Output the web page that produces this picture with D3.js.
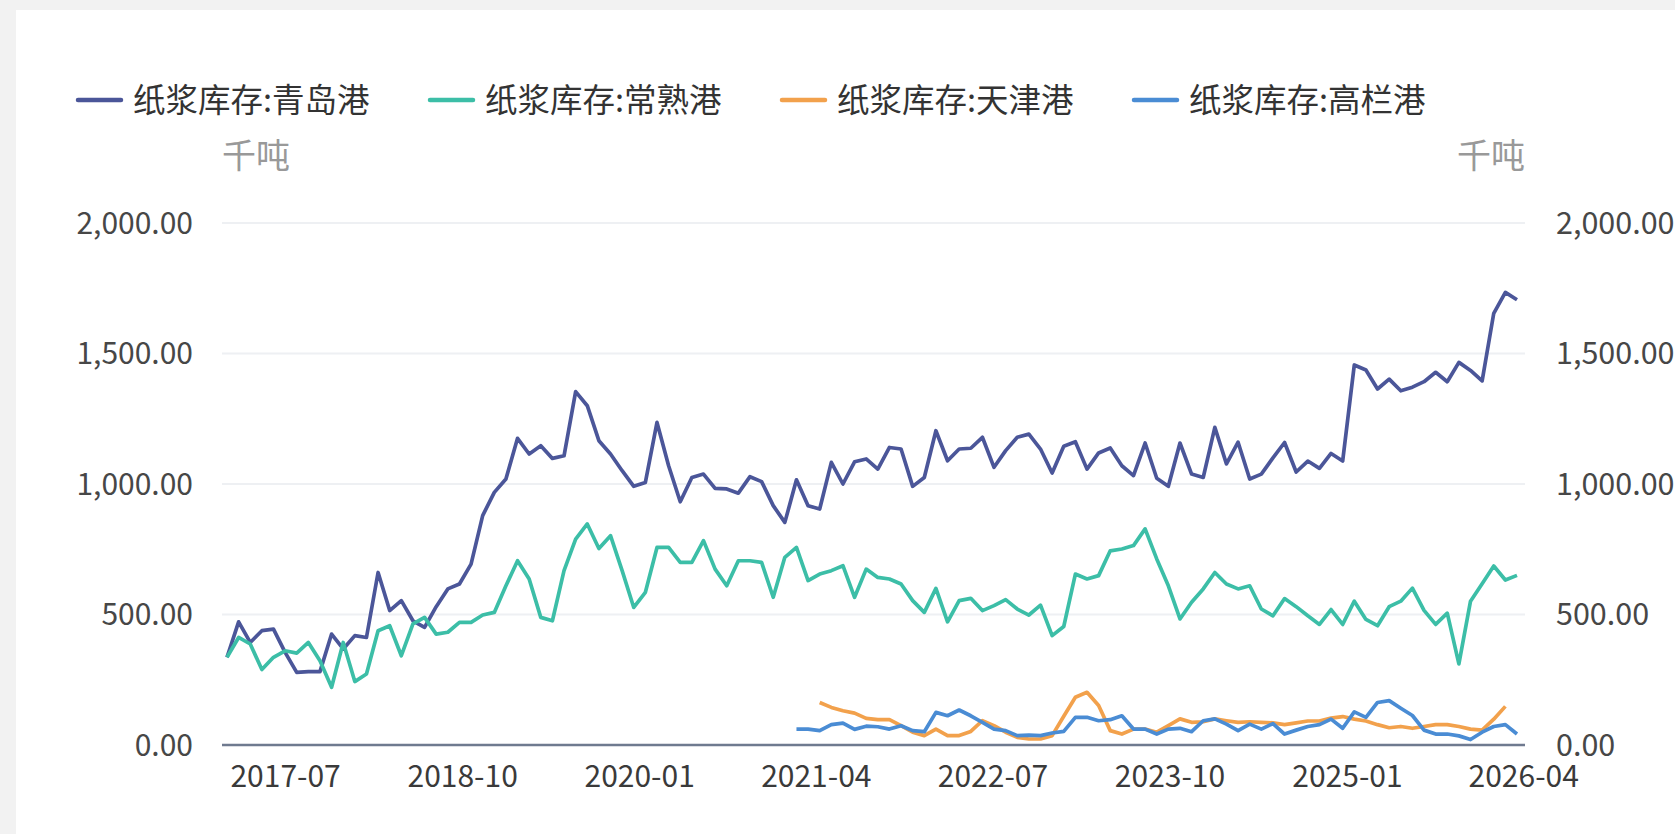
<!DOCTYPE html>
<html>
<head>
<meta charset="utf-8">
<script src="https://cdn.jsdelivr.net/npm/d3@7.9.0/dist/d3.min.js"></script>
<style>
  html, body { margin: 0; background: #f2f2f2; }
  svg { display: block; font-family: "Microsoft YaHei", "Noto Sans CJK SC", sans-serif; }
</style>
</head>
<body>
<svg id="chart" width="1675" height="834"></svg>
<script>
// readings are roughly every 30 days, first one early Feb 2017
const firstDate = '2017-02-01';
const stepDays = 30;

const seriesNames = ['纸浆库存:青岛港', '纸浆库存:常熟港', '纸浆库存:天津港', '纸浆库存:高栏港'];
const seriesColors = ['#4b5699', '#3cbea7', '#f2a14c', '#4a8cd4'];

const qingdao = [
  336, 472, 393, 438, 444, 355, 278, 281, 281, 425, 368, 419,
  412, 661, 515, 553, 476, 451, 530, 598, 617, 693, 879, 968,
  1019, 1175, 1115, 1147, 1098, 1108, 1354, 1300, 1166, 1115, 1051, 991,
  1006, 1236, 1070, 932, 1025, 1038, 983, 981, 965, 1028, 1009, 917,
  853, 1016, 917, 904, 1083, 1000, 1085, 1096, 1057, 1140, 1134, 991,
  1025, 1204, 1089, 1134, 1137, 1179, 1064, 1128, 1179, 1191, 1134, 1042,
  1145, 1162, 1057, 1119, 1138, 1070, 1032, 1157, 1022, 991, 1157, 1038,
  1025, 1217, 1077, 1160, 1019, 1038, 1100, 1159, 1046, 1088, 1060, 1117,
  1088, 1456, 1437, 1364, 1402, 1357, 1371, 1392, 1428, 1392, 1466, 1435,
  1395, 1654, 1734, 1706
];

const changshu = [
  336, 412, 387, 289, 336, 361, 352, 393, 323, 221, 393, 243,
  272, 438, 457, 342, 464, 489, 425, 432, 470, 470, 498, 508,
  610, 706, 636, 489, 476, 668, 789, 847, 753, 802, 668, 527,
  585, 757, 757, 700, 700, 783, 674, 610, 706, 706, 700, 566,
  719, 757, 630, 655, 668, 687, 566, 674, 642, 636, 617, 553,
  508, 600, 472, 553, 562, 515, 534, 557, 521, 498, 536, 419,
  454, 655, 636, 649, 744, 751, 764, 828, 713, 610, 483, 547,
  598, 661, 617, 598, 610, 521, 495, 561, 530, 495, 462, 519,
  462, 551, 481, 457, 530, 551, 601, 516, 462, 505, 311, 551,
  618, 686, 632, 650
];

// 天津港 starts at reading 51, 高栏港 at reading 49
const tianjinStart = 51;
const tianjin = [
  163, 144, 131, 122, 102, 97, 97, 74, 49, 36, 61, 36,
  36, 52, 93, 74, 49, 29, 23, 23, 36, 110, 183, 202,
  151, 55, 42, 61, 61, 49, 74, 100, 87, 89, 100, 93,
  87, 89, 87, 85, 78, 85, 92, 92, 103, 109, 99, 92,
  78, 66, 71, 64, 71, 78, 78, 71, 61, 57, 99, 148
];

const gaolanStart = 49;
const gaolan = [
  61, 61, 55, 78, 84, 60, 72, 70, 61, 74, 55, 51,
  125, 112, 134, 112, 87, 61, 55, 36, 38, 36, 46, 52,
  106, 106, 93, 97, 112, 61, 61, 42, 61, 64, 51, 93,
  100, 80, 55, 80, 61, 82, 42, 57, 71, 78, 99, 64,
  127, 106, 163, 170, 141, 113, 57, 42, 42, 35, 21, 49,
  71, 78, 42
];

const xTickLabels = ['2017-07', '2018-10', '2020-01', '2021-04', '2022-07', '2023-10', '2025-01', '2026-04'];
const yTicks = [0, 500, 1000, 1500, 2000];
const unitLabel = '千吨';

const parseMonth = d3.timeParse('%Y-%m');
const parseDay = d3.timeParse('%Y-%m-%d');
const fmtMonth = d3.timeFormat('%Y-%m');

const t0 = parseDay(firstDate);
const dateAt = (i) => d3.timeDay.offset(t0, i * stepDays);

function toPoints(values, startIdx) {
  return values.map((v, i) => ({ date: dateAt(startIdx + i), value: v }));
}

const allSeries = [
  toPoints(qingdao, 0),
  toPoints(changshu, 0),
  toPoints(tianjin, tianjinStart),
  toPoints(gaolan, gaolanStart),
];

const W = 1675, H = 834;
const plot = { left: 222, right: 1525, top: 223, bottom: 745 };
const svg = d3.select('#chart');

// white panel
svg.append('rect')
  .attr('x', 16).attr('y', 10)
  .attr('width', W - 16).attr('height', H - 10)
  .attr('fill', '#ffffff');

const x = d3.scaleTime()
  .domain([dateAt(0), dateAt(qingdao.length - 1)])
  .range([plot.left + 5, plot.right - 8]);

const y = d3.scaleLinear()
  .domain([0, 2000])
  .range([plot.bottom, plot.top]);

const yFmt = d3.format(',.2f');

// grid lines
svg.append('g')
  .selectAll('line')
  .data(yTicks.filter((d) => d > 0))
  .join('line')
  .attr('x1', plot.left).attr('x2', plot.right)
  .attr('y1', (d) => y(d)).attr('y2', (d) => y(d))
  .attr('stroke', '#eef0f3')
  .attr('stroke-width', 2);

// left axis labels
svg.append('g')
  .selectAll('text')
  .data(yTicks)
  .join('text')
  .attr('x', 193)
  .attr('y', (d) => y(d))
  .attr('dy', '0.36em')
  .attr('text-anchor', 'end')
  .attr('font-size', 30)
  .attr('fill', '#474747')
  .text(yFmt);

// right axis labels
svg.append('g')
  .selectAll('text')
  .data(yTicks)
  .join('text')
  .attr('x', 1556)
  .attr('y', (d) => y(d))
  .attr('dy', '0.36em')
  .attr('text-anchor', 'start')
  .attr('font-size', 30.5)
  .attr('fill', '#474747')
  .text(yFmt);

// unit names
svg.append('text')
  .attr('x', plot.left).attr('y', 156)
  .attr('dy', '0.36em')
  .attr('font-size', 34).attr('fill', '#999')
  .text(unitLabel);
svg.append('text')
  .attr('x', plot.right).attr('y', 156)
  .attr('dy', '0.36em')
  .attr('text-anchor', 'end')
  .attr('font-size', 34).attr('fill', '#999')
  .text(unitLabel);

// x axis
const xAxis = d3.axisBottom(x)
  .tickValues(xTickLabels.map(parseMonth))
  .tickFormat(fmtMonth)
  .tickSize(0)
  .tickPadding(21);

const gx = svg.append('g')
  .attr('transform', `translate(0,${plot.bottom})`)
  .call(xAxis);
gx.select('.domain').remove();
gx.selectAll('text')
  .attr('font-size', 30)
  .attr('font-family', '"Microsoft YaHei", "Noto Sans CJK SC", sans-serif')
  .attr('fill', '#3a3a3a');

svg.append('line')
  .attr('x1', plot.left).attr('x2', plot.right)
  .attr('y1', plot.bottom).attr('y2', plot.bottom)
  .attr('stroke', '#6f7a8f')
  .attr('stroke-width', 2.5);

// lines
const line = d3.line()
  .x((d) => x(d.date))
  .y((d) => y(d.value));

allSeries.forEach((pts, idx) => {
  svg.append('path')
    .datum(pts)
    .attr('d', line)
    .attr('fill', 'none')
    .attr('stroke', seriesColors[idx])
    .attr('stroke-width', 3.7)
    .attr('stroke-linejoin', 'round');
});

// legend
const legend = svg.append('g').attr('transform', 'translate(78,100)');
let lx = 0;
seriesNames.forEach((name, idx) => {
  const item = legend.append('g').attr('transform', `translate(${lx},0)`);
  item.append('line')
    .attr('x1', 0).attr('x2', 43)
    .attr('y1', 0).attr('y2', 0)
    .attr('stroke', seriesColors[idx])
    .attr('stroke-width', 4.5)
    .attr('stroke-linecap', 'round');
  item.append('text')
    .attr('x', 55).attr('y', 0)
    .attr('dy', '0.36em')
    .attr('font-size', 32.5)
    .attr('fill', '#333')
    .text(name);
  lx += 352;
});
</script>
</body>
</html>
